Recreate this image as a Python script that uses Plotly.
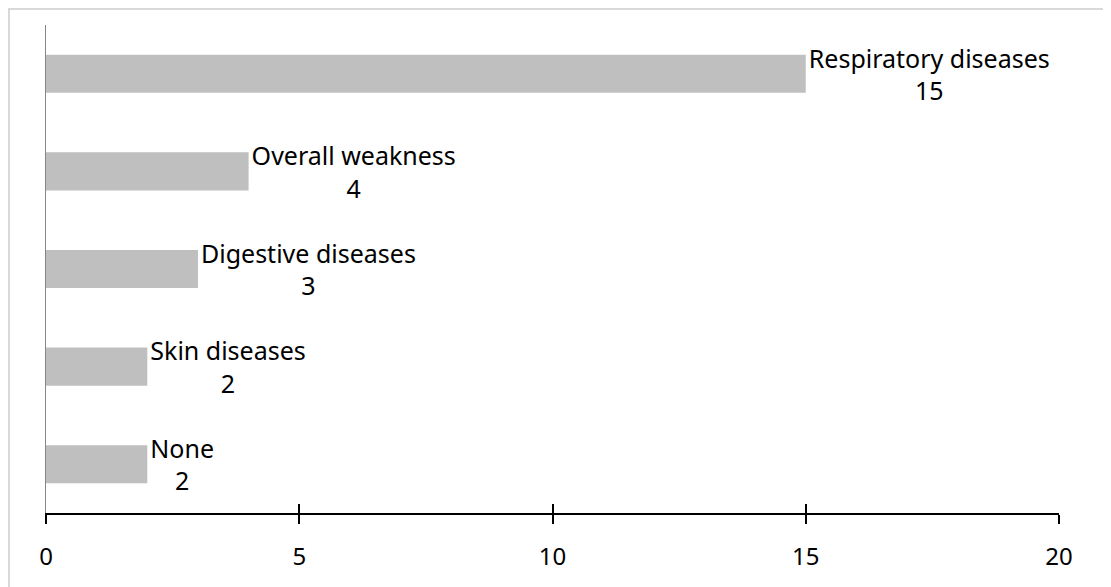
import plotly.graph_objects as go

categories = ["None", "Skin diseases", "Digestive diseases", "Overall weakness", "Respiratory diseases"]
values = [2, 2, 3, 4, 15]
tick_vals = [0, 5, 10, 15, 20]

FONT = "Noto Sans"

fig = go.Figure()
fig.add_trace(go.Bar(
    y=categories,
    x=values,
    orientation="h",
    width=0.39,
    marker=dict(color="#BFBFBF", line=dict(width=0)),
    text=[f"{c}<br>{v}" for c, v in zip(categories, values)],
    textposition="outside",
    constraintext="none",
    textfont=dict(family=FONT, size=25, color="#000000"),
    cliponaxis=False,
    hoverinfo="skip",
))

# second x axis to draw inside ticks (ticks crossing the axis)
fig.add_trace(go.Scatter(x=[None], y=[None], xaxis="x2", yaxis="y", showlegend=False, hoverinfo="skip"))

fig.update_layout(
    width=1103, height=579,
    margin=dict(l=38, r=52, t=17, b=74),
    plot_bgcolor="white", paper_bgcolor="white",
    showlegend=False,
    font=dict(family=FONT, size=24, color="#000000"),
    xaxis=dict(
        range=[0, 20], tickvals=tick_vals, ticks="outside", ticklen=9, tickwidth=2,
        tickcolor="#000000", showline=True, linecolor="#000000", linewidth=2,
        showgrid=False, zeroline=False, ticklabelstandoff=12,
        tickfont=dict(family=FONT, size=24, color="#000000"),
    ),
    xaxis2=dict(
        range=[0, 20], tickvals=tick_vals, ticks="inside", ticklen=9, tickwidth=2,
        tickcolor="#000000", overlaying="x", side="bottom", anchor="y",
        showticklabels=False, showgrid=False, zeroline=False, showline=False,
    ),
    yaxis=dict(
        range=[-0.5, 4.5], categoryorder="array", categoryarray=categories,
        showticklabels=False, ticks="", showline=True, linecolor="#868686", linewidth=1,
        showgrid=False, zeroline=False,
    ),
    shapes=[dict(
        type="rect", xref="paper", yref="paper",
        x0=-0.0365, x1=1.06, y0=-0.17, y1=1.0328,
        line=dict(color="#D9D9D9", width=2), fillcolor="rgba(0,0,0,0)", layer="below",
    )],
)

fig.write_html("out.html")
